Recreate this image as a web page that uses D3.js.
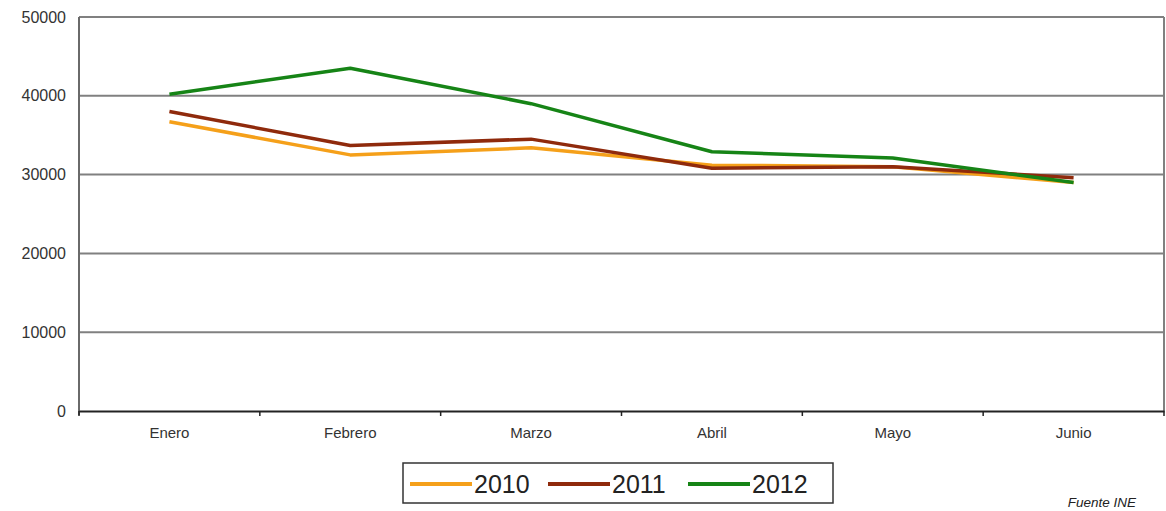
<!DOCTYPE html>
<html><head><meta charset="utf-8">
<script src="https://cdn.jsdelivr.net/npm/d3@7"></script>
<style>body{margin:0;background:#fff}svg{display:block}</style>
</head><body>
<script>
const months = ["Enero","Febrero","Marzo","Abril","Mayo","Junio"];
const years = ["2010","2011","2012"];
const values2010 = [36700, 32500, 33400, 31200, 31000, 29000];
const values2011 = [38000, 33700, 34500, 30800, 31000, 29600];
const values2012 = [40200, 43500, 39000, 32900, 32100, 29000];
const yTicks = [0, 10000, 20000, 30000, 40000, 50000];
const colors = ["#f5a01a", "#8f2a0c", "#168416"];
const sourceText = "Fuente INE";

const series = [values2010, values2011, values2012];
const W = 1166, H = 511;
const m = {left: 79, right: 1164, top: 17, bottom: 411};

const svg = d3.select("body").append("svg").attr("width", W).attr("height", H);
const x = d3.scaleBand().domain(months).range([m.left, m.right]);
const y = d3.scaleLinear().domain([0, 50000]).range([m.bottom, m.top]);

svg.append("g").selectAll("line").data(yTicks.filter(d => d > 0)).join("line")
  .attr("x1", m.left).attr("x2", m.right)
  .attr("y1", d => y(d)).attr("y2", d => y(d))
  .attr("stroke", "#808080").attr("stroke-width", 2);
svg.append("line").attr("x1", m.right).attr("x2", m.right).attr("y1", m.top).attr("y2", m.bottom)
  .attr("stroke", "#808080").attr("stroke-width", 2);
svg.append("line").attr("x1", m.left).attr("x2", m.left).attr("y1", m.top).attr("y2", m.bottom + 4)
  .attr("stroke", "#6a6a6a").attr("stroke-width", 2);

const ya = svg.append("g").attr("transform", `translate(${m.left},0)`)
  .call(d3.axisLeft(y).tickValues(yTicks).tickSize(0).tickPadding(13).tickFormat(d3.format("d")));
ya.select(".domain").remove();
ya.selectAll("text").attr("font-family", "Liberation Sans, Arial, sans-serif").attr("font-size", 16).attr("fill", "#333");

const xa = svg.append("g").attr("transform", `translate(0,${m.bottom})`)
  .call(d3.axisBottom(x).tickSize(0).tickPadding(16));
xa.select(".domain").attr("stroke", "#222").attr("stroke-width", 2);
xa.selectAll("text").attr("font-family", "Liberation Sans, Arial, sans-serif").attr("font-size", 15).attr("fill", "#333");
const bounds = months.map(d => x(d)).concat([m.right]);
svg.append("g").selectAll("line").data(bounds).join("line")
  .attr("x1", d => d).attr("x2", d => d).attr("y1", m.bottom).attr("y2", m.bottom + 5)
  .attr("stroke", "#222").attr("stroke-width", 1.5);

const line = d3.line().x((d, i) => x(months[i]) + x.bandwidth() / 2).y(d => y(d));
series.forEach((s, k) => {
  svg.append("path").datum(s).attr("d", line).attr("fill", "none")
    .attr("stroke", colors[k]).attr("stroke-width", 3.5).attr("stroke-linejoin", "round");
});

const lg = svg.append("g");
lg.append("rect").attr("x", 403).attr("y", 463).attr("width", 430).attr("height", 40)
  .attr("fill", "#fff").attr("stroke", "#333").attr("stroke-width", 1.5);
const lx = [410, 548, 688];
years.forEach((yr, k) => {
  lg.append("line").attr("x1", lx[k]).attr("x2", lx[k] + 62).attr("y1", 484).attr("y2", 484)
    .attr("stroke", colors[k]).attr("stroke-width", 4);
  lg.append("text").attr("x", lx[k] + 64).attr("y", 493).text(yr)
    .attr("font-family", "Liberation Sans, Arial, sans-serif").attr("font-size", 25).attr("fill", "#222");
});

svg.append("text").attr("x", 1136).attr("y", 507).attr("text-anchor", "end").text(sourceText)
  .attr("font-family", "Liberation Sans, Arial, sans-serif").attr("font-size", 13.5)
  .attr("font-style", "italic").attr("fill", "#222");
</script>
</body></html>
